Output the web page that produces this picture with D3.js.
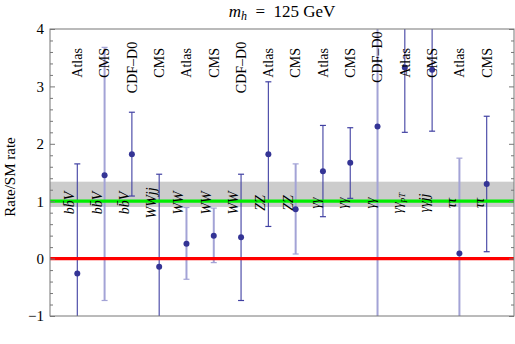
<!DOCTYPE html>
<html><head><meta charset="utf-8">
<script src="https://cdn.jsdelivr.net/npm/d3@7"></script>
<style>
html,body{margin:0;padding:0;background:#fff;}
svg{display:block;}
svg text{font-family:"Liberation Serif","Times New Roman",Tinos,Times,serif !important;}
</style></head>
<body>
<svg id="chart" width="515" height="344"></svg>
<script>
// ---- data ----
const experiments = ["Atlas","CMS","CDF–D0","CMS","Atlas","CMS","CDF–D0","Atlas","CMS","Atlas","CMS","CDF–D0","Atlas","CMS","Atlas","CMS"];
const channels = ["bbV","bbV","bbV","WWjj","WW","WW","WW","ZZ","ZZ","γγ","γγ","γγ","γγpT","γγjj","ττ","ττ"];
const rates = [-0.26, 1.45, 1.82, -0.14, 0.26, 0.40, 0.37, 1.82, 0.86, 1.52, 1.67, 2.30, 3.33, 3.29, 0.09, 1.30];
const upper = [1.65, 3.68, 2.55, 1.47, 0.89, 0.88, 1.47, 3.08, 1.65, 2.32, 2.28, 6.30, 4.46, 4.36, 1.75, 2.48];
const lower = [-2.17, -0.73, 1.09, -1.75, -0.36, -0.07, -0.73, 0.56, 0.08, 0.73, 1.05, -1.70, 2.20, 2.22, -1.57, 0.12];
const dataset = ["a","b","a","a","b","b","a","a","b","a","a","b","a","a","b","a"];
const smBand = [0.90, 1.34];
const yTicks = [-1, 0, 1, 2, 3, 4];

const rows = rates.map((r,i)=>({i, x:i+1, rate:r, hi:upper[i], lo:lower[i], exp:experiments[i], ch:channels[i], set:dataset[i]}));

const svg = d3.select("#chart");
const L=50, R=514, T=29, B=316;
const x = d3.scaleLinear().domain([0,17]).range([L,R]);
const y = d3.scaleLinear().domain([-1,4]).range([B,T]);
const stroke = d3.scaleOrdinal().domain(["a","b"]).range(["#4040a2","#a3a3d6"]);
const sw = d3.scaleOrdinal().domain(["a","b"]).range([1.1,2]);

svg.append("defs").append("clipPath").attr("id","clip")
  .append("rect").attr("x",L).attr("y",T).attr("width",R-L).attr("height",B-T);

const plot = svg.append("g").attr("clip-path","url(#clip)");

// SM band
plot.append("rect").attr("x",L).attr("width",R-L)
  .attr("y",y(smBand[1])).attr("height",y(smBand[0])-y(smBand[1]))
  .attr("fill","#cccccc");

// error bars
const eb = plot.append("g").selectAll("g").data(rows).join("g");
eb.append("line").attr("x1",d=>x(d.x)).attr("x2",d=>x(d.x))
  .attr("y1",d=>y(d.lo)).attr("y2",d=>y(d.hi))
  .attr("stroke",d=>stroke(d.set)).attr("stroke-width",d=>sw(d.set));
eb.append("line").attr("x1",d=>x(d.x)-3).attr("x2",d=>x(d.x)+3)
  .attr("y1",d=>y(d.hi)).attr("y2",d=>y(d.hi))
  .attr("stroke",d=>stroke(d.set)).attr("stroke-width",1.2);
eb.append("line").attr("x1",d=>x(d.x)-3).attr("x2",d=>x(d.x)+3)
  .attr("y1",d=>y(d.lo)).attr("y2",d=>y(d.lo))
  .attr("stroke",d=>stroke(d.set)).attr("stroke-width",1.2);
eb.append("circle").attr("cx",d=>x(d.x)).attr("cy",d=>y(d.rate)).attr("r",3)
  .attr("fill","#343495");

// reference lines
plot.append("line").attr("x1",L).attr("x2",R).attr("y1",y(1)).attr("y2",y(1))
  .attr("stroke","#00ee00").attr("stroke-width",3.2);
plot.append("line").attr("x1",L).attr("x2",R).attr("y1",y(0)).attr("y2",y(0))
  .attr("stroke","#ff0000").attr("stroke-width",3.2);

// experiment labels (top)
const topMid = d => d.exp==="CDF–D0" ? (d.i===11 ? 3.51 : 3.33) : 3.41;
svg.append("g").selectAll("text").data(rows).join("text")
  .attr("transform",d=>`translate(${x(d.x)+4.8},${y(topMid(d))}) rotate(-90)`)
  .attr("text-anchor","middle").attr("font-size",14).attr("fill","#000")
  .text(d=>d.exp);

// channel labels (bottom)
const ch = svg.append("g").selectAll("text").data(rows).join("text")
  .attr("transform",d=>`translate(${x(d.x)-3},${y(0.97)}) rotate(-90)`)
  .attr("text-anchor","middle").attr("font-size",14).attr("font-style","italic").attr("fill","#000");
ch.each(function(d){
  const t = d3.select(this);
  if (d.ch==="bbV") { t.append("tspan").text("b"); t.append("tspan").text("b\u0304"); t.append("tspan").text("V"); }
  else if (d.ch==="γγpT") { t.append("tspan").text("γγ"); t.append("tspan").attr("font-size",9).attr("dy",3).text("pT"); }
  else t.text(d.ch);
});

// frame
svg.append("rect").attr("x",L).attr("y",T).attr("width",R-L).attr("height",B-T)
  .attr("fill","none").attr("stroke","#777").attr("stroke-width",1);

// axes
const minor = d3.range(-1,4.001,0.2).map(v=>+v.toFixed(1)).filter(v=>Math.abs(v-Math.round(v))>1e-6);
const fmt = v => v < 0 ? "\u2212" + Math.abs(v) : String(v);
const axL = svg.append("g").attr("transform",`translate(${L},0)`)
  .call(d3.axisLeft(y).tickValues(yTicks).tickFormat(fmt).tickSizeInner(-5).tickSizeOuter(0).tickPadding(6));
svg.append("g").attr("transform",`translate(${L},0)`)
  .call(d3.axisLeft(y).tickValues(minor).tickSizeInner(-3).tickSizeOuter(0).tickFormat(""));
svg.append("g").attr("transform",`translate(${R},0)`)
  .call(d3.axisRight(y).tickValues(yTicks).tickSizeInner(-5).tickSizeOuter(0).tickFormat(""));
svg.append("g").attr("transform",`translate(${R},0)`)
  .call(d3.axisRight(y).tickValues(minor).tickSizeInner(-3).tickSizeOuter(0).tickFormat(""));
svg.selectAll(".domain").remove();
svg.selectAll(".tick line").attr("stroke","#777");
axL.attr("font-family","Liberation Serif").attr("font-size",15);
axL.selectAll("text").attr("fill","#000");

// y label
svg.append("text").attr("transform",`translate(15,177) rotate(-90)`)
  .attr("text-anchor","middle").attr("font-size",15).text("Rate/SM rate");

// title
const title = svg.append("text").attr("x",282).attr("y",17).attr("text-anchor","middle").attr("font-size",17);
title.append("tspan").attr("font-style","italic").text("m");
title.append("tspan").attr("font-style","italic").attr("font-size",12).attr("dy",3).text("h");
title.append("tspan").attr("dy",-3).text("\u2002=\u2002125 GeV");
</script>
</body></html>
